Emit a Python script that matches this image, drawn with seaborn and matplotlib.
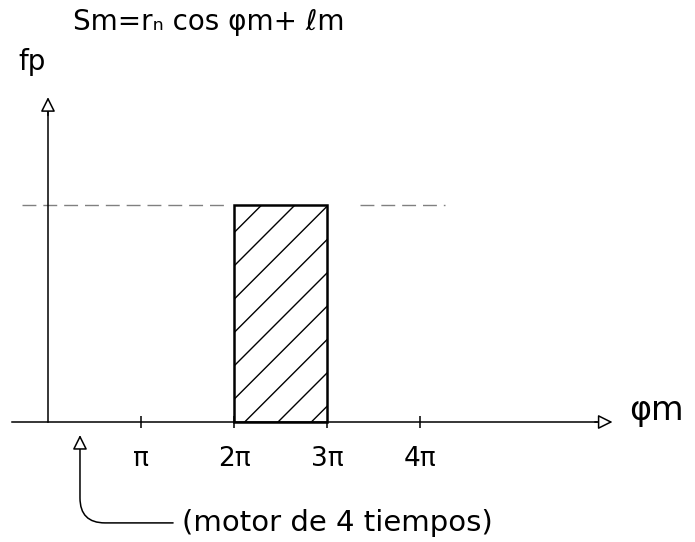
import numpy as np
import pandas as pd
import seaborn as sns
import matplotlib.pyplot as plt

# datos del dibujo (eje x en multiplos de pi)
tick_pos = [1, 2, 3, 4]
tick_labels = ['π', '2π', '3π', '4π']
bar_left = 2
bar_right = 3
fp_level = 1.0
dash_left = [-0.28, 1.95]
dash_right = [3.35, 4.27]

sns.set_theme(style="white")
plt.rcParams['font.family'] = ['DejaVu Sans']
plt.rcParams['text.color'] = 'black'

fig = plt.figure(figsize=(6.95, 5.42), dpi=100)
ax = fig.add_axes([0, 0, 1, 1])
ax.set_xlim(-0.516, 6.957)
ax.set_ylim(-0.553, 1.945)

# rectangulo rayado (una sola barra de 2pi a 3pi)
df = pd.DataFrame({'phi': [(bar_left + bar_right) / 2], 'fp': [fp_level]})
sns.histplot(data=df, x='phi', weights='fp', bins=[bar_left, bar_right],
             ax=ax, stat='count', facecolor='white', edgecolor='black',
             linewidth=1.8, hatch='/', alpha=1)

# linea de nivel discontinua
for seg in (dash_left, dash_right):
    sns.lineplot(x=seg, y=[fp_level, fp_level], ax=ax, color='gray',
                 linewidth=1, linestyle=(0, (10, 5)))

# ejes
sns.despine(ax=ax)
ax.spines['bottom'].set_position(('data', 0))
ax.spines['left'].set_position(('data', 0))
ax.spines['bottom'].set_bounds(-0.39, 5.9)
ax.spines['left'].set_bounds(0, 1.45)
for s in ('bottom', 'left'):
    ax.spines[s].set_color('black')
    ax.spines[s].set_linewidth(1.1)
ax.set_xlabel('')
ax.set_ylabel('')
ax.set_yticks([])
ax.set_xticks(tick_pos)
ax.set_xticklabels(tick_labels, fontsize=19)
ax.tick_params(axis='x', direction='inout', length=9, width=1.1, pad=13,
               colors='black', bottom=True)

# flechas de los ejes
ax.annotate('', xy=(6.1, 0), xytext=(5.85, 0),
            arrowprops=dict(arrowstyle='-|>', fc='white', ec='black',
                            lw=1.1, mutation_scale=22))
ax.annotate('', xy=(0, 1.51), xytext=(0, 1.4),
            arrowprops=dict(arrowstyle='-|>', fc='white', ec='black',
                            lw=1.1, mutation_scale=22))

# textos
fig.text(0.30, 0.96, 'Sm=rₙ cos φm+ ℓm', fontsize=20, ha='center', va='center',
         color='black')
fig.text(0.046, 0.886, 'fp', fontsize=20, ha='center', va='center', color='black')
fig.text(0.945, 0.243, 'φm', fontsize=24, ha='center', va='center', color='black')

ax.annotate('(motor de 4 tiempos)', xy=(0.344, -0.06), xytext=(1.44, -0.465),
            fontsize=21, ha='left', va='center', color='black',
            arrowprops=dict(arrowstyle='-|>', fc='white', ec='black', lw=1.1,
                            mutation_scale=22, shrinkA=4, shrinkB=0,
                            connectionstyle='angle,angleA=0,angleB=90,rad=25'))

fig.savefig('out.png', dpi=100)
